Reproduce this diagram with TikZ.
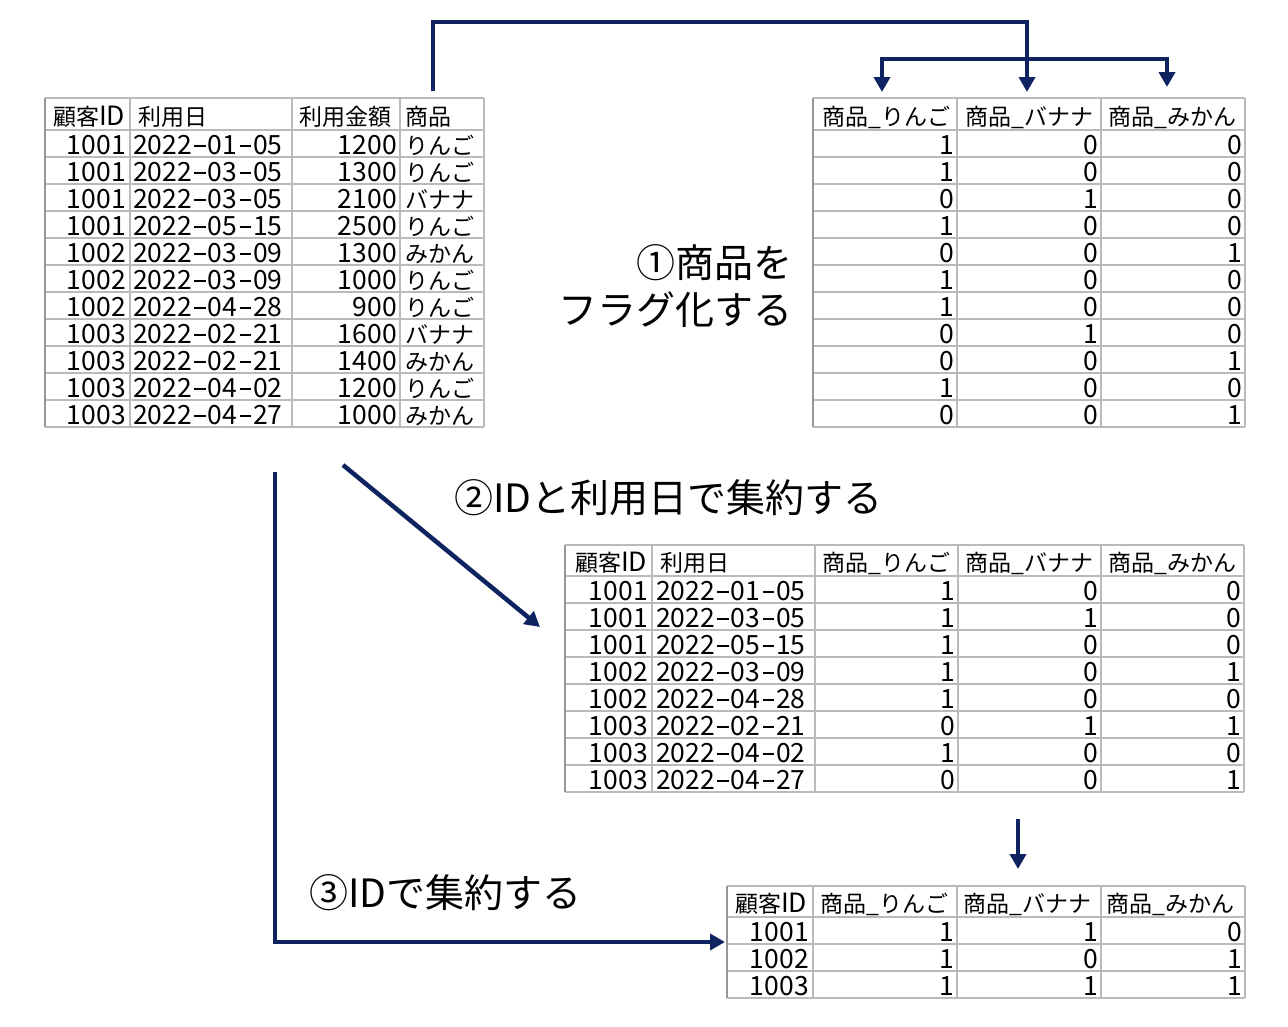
\documentclass[tikz,border=0pt]{standalone}
\usepackage{fontspec}
\setmainfont{Noto Sans CJK JP}
\usetikzlibrary{arrows.meta}
\definecolor{navy}{RGB}{14,35,95}
\definecolor{gridc}{RGB}{186,186,186}
\definecolor{edgec}{RGB}{150,150,150}
\newcommand\dg{\fontsize{26.5}{26.5}\selectfont}
\newcommand\jf{\fontsize{23}{23}\selectfont}
\newcommand\lf{\fontsize{39}{39}\selectfont}
\newcommand\dsh{\kern2.2pt\rule[7.4pt]{11.5pt}{2.1pt}\kern2.2pt}
\newcommand\dte[2]{2022\dsh#1\dsh#2}
\newcommand\hid{{\jf 顧客}{\dg ID}}
\begin{document}
\begin{tikzpicture}[x=1pt,y=-1pt,
  gridline/.style={draw=gridc,line width=1.8pt},
  edgeline/.style={draw=edgec,line width=2pt},
  numR/.style={anchor=base east,inner sep=0pt,font=\dg},
  txtL/.style={anchor=base west,inner sep=0pt,font=\dg},
  jpL/.style={anchor=base west,inner sep=0pt,font=\jf},
  lbl/.style={inner sep=0pt,font=\lf},
  arr/.style={draw=navy,line width=4.5pt,-{Triangle[width=16pt,length=15pt]}},
  arrb/.style={draw=navy,line width=4.5pt,{Triangle[width=16pt,length=15pt]}-{Triangle[width=16pt,length=15pt]}},
  plainline/.style={draw=navy,line width=4.5pt}]
\useasboundingbox[fill=white] (0,0) rectangle (1288,1026);

% ---------- Table 1 ----------
\draw[gridline] (45,98) -- (484,98);
\foreach \k in {0,...,11} \draw[gridline] (45,{130+27*\k}) -- (484,{130+27*\k});
\foreach \x in {130,292,400,484} \draw[gridline] (\x,98) -- (\x,427);
\draw[edgeline] (45,98) -- (45,427);
\node[jpL] (t1h1) at (53,125) {\hid};
\node[jpL] (t1h2) at (138,125) {利用日};
\node[jpL] (t1h3) at (299,125) {利用金額};
\node[jpL] (t1h4) at (405,125) {商品};
\foreach \id/\m/\d/\amt/\it [count=\i] in {1001/01/05/1200/りんご,1001/03/05/1300/りんご,1001/03/05/2100/バナナ,1001/05/15/2500/りんご,1002/03/09/1300/みかん,1002/03/09/1000/りんご,1002/04/28/900/りんご,1003/02/21/1600/バナナ,1003/02/21/1400/みかん,1003/04/02/1200/りんご,1003/04/27/1000/みかん}{
  \node[numR] (t1a\i) at (126,{127+27*\i}) {\id};
  \node[txtL] (t1b\i) at (133,{127+27*\i}) {\dte{\m}{\d}};
  \node[numR] (t1c\i) at (397,{127+27*\i}) {\amt};
  \node[jpL] (t1d\i) at (405,{127+27*\i}) {\it};
}

% ---------- Table 2 ----------
\draw[gridline] (813,98) -- (1245,98);
\foreach \k in {0,...,11} \draw[gridline] (813,{130+27*\k}) -- (1245,{130+27*\k});
\foreach \x in {957,1101,1245} \draw[gridline] (\x,98) -- (\x,427);
\draw[edgeline] (813,98) -- (813,427);
\node[jpL] (t2h1) at (822,125) {商品\_りんご};
\node[jpL] (t2h2) at (965,125) {商品\_バナナ};
\node[jpL] (t2h3) at (1108,125) {商品\_みかん};
\foreach \p/\q/\r [count=\i] in {1/0/0,1/0/0,0/1/0,1/0/0,0/0/1,1/0/0,1/0/0,0/1/0,0/0/1,1/0/0,0/0/1}{
  \node[numR] (t2a\i) at (954,{127+27*\i}) {\p};
  \node[numR] (t2b\i) at (1098,{127+27*\i}) {\q};
  \node[numR] (t2c\i) at (1242,{127+27*\i}) {\r};
}

% ---------- Table 3 ----------
\draw[gridline] (565,545) -- (1244,545);
\foreach \k in {0,...,8} \draw[gridline] (565,{576+27*\k}) -- (1244,{576+27*\k});
\foreach \x in {652,815,958,1101,1244} \draw[gridline] (\x,545) -- (\x,792);
\draw[edgeline] (565,545) -- (565,792);
\node[jpL] (t3h1) at (575,571) {\hid};
\node[jpL] (t3h2) at (660,571) {利用日};
\node[jpL] (t3h3) at (822,571) {商品\_りんご};
\node[jpL] (t3h4) at (965,571) {商品\_バナナ};
\node[jpL] (t3h5) at (1108,571) {商品\_みかん};
\foreach \id/\m/\d/\p/\q/\r [count=\i] in {1001/01/05/1/0/0,1001/03/05/1/1/0,1001/05/15/1/0/0,1002/03/09/1/0/1,1002/04/28/1/0/0,1003/02/21/0/1/1,1003/04/02/1/0/0,1003/04/27/0/0/1}{
  \node[numR] (t3a\i) at (648,{573+27*\i}) {\id};
  \node[txtL] (t3b\i) at (656,{573+27*\i}) {\dte{\m}{\d}};
  \node[numR] (t3c\i) at (955,{573+27*\i}) {\p};
  \node[numR] (t3d\i) at (1098,{573+27*\i}) {\q};
  \node[numR] (t3e\i) at (1241,{573+27*\i}) {\r};
}

% ---------- Table 4 ----------
\draw[gridline] (727,886) -- (1245,886);
\foreach \k in {0,...,3} \draw[gridline] (727,{917+27*\k}) -- (1245,{917+27*\k});
\foreach \x in {813,957,1101,1245} \draw[gridline] (\x,886) -- (\x,998);
\draw[edgeline] (727,886) -- (727,998);
\node[jpL] (t4h1) at (735,912) {\hid};
\node[jpL] (t4h2) at (820,912) {商品\_りんご};
\node[jpL] (t4h3) at (963,912) {商品\_バナナ};
\node[jpL] (t4h4) at (1106,912) {商品\_みかん};
\foreach \id/\p/\q/\r [count=\i] in {1001/1/1/0,1002/1/0/1,1003/1/1/1}{
  \node[numR] (t4a\i) at (809,{914+27*\i}) {\id};
  \node[numR] (t4b\i) at (954,{914+27*\i}) {\p};
  \node[numR] (t4c\i) at (1098,{914+27*\i}) {\q};
  \node[numR] (t4d\i) at (1242,{914+27*\i}) {\r};
}

% ---------- Labels ----------
\node[lbl,anchor=base east] (lab1a) at (793,277) {①商品を};
\node[lbl,anchor=base east] (lab1b) at (793,324) {フラグ化する};
\node[lbl,anchor=base west] (lab2) at (454,512) {②IDと利用日で集約する};
\node[lbl,anchor=base west] (lab3) at (309,907) {③IDで集約する};

% ---------- Arrows ----------
\coordinate (s1) at (433,91);
\coordinate (c1a) at (433,22);
\coordinate (c1b) at (1027,22);
\coordinate (e1) at (1027,92);
\coordinate (bl) at (882,92);
\coordinate (bla) at (882,59);
\coordinate (bra) at (1167,59);
\coordinate (br) at (1167,87);
\draw[arr] (s1) -- (c1a) -- (c1b) -- (e1);
\draw[arrb] (bl) -- (bla) -- (bra) -- (br);

\coordinate (s2) at (343,465);
\coordinate (e2) at (540,627);
\draw[arr] (s2) -- (e2);

\coordinate (s3) at (275,472);
\coordinate (c3) at (275,942);
\coordinate (e3) at (725,942);
\draw[arr] (s3) -- (c3) -- (e3);

\coordinate (s4) at (1018,819);
\coordinate (e4) at (1018,869);
\draw[arr] (s4) -- (e4);
\end{tikzpicture}
\end{document}
